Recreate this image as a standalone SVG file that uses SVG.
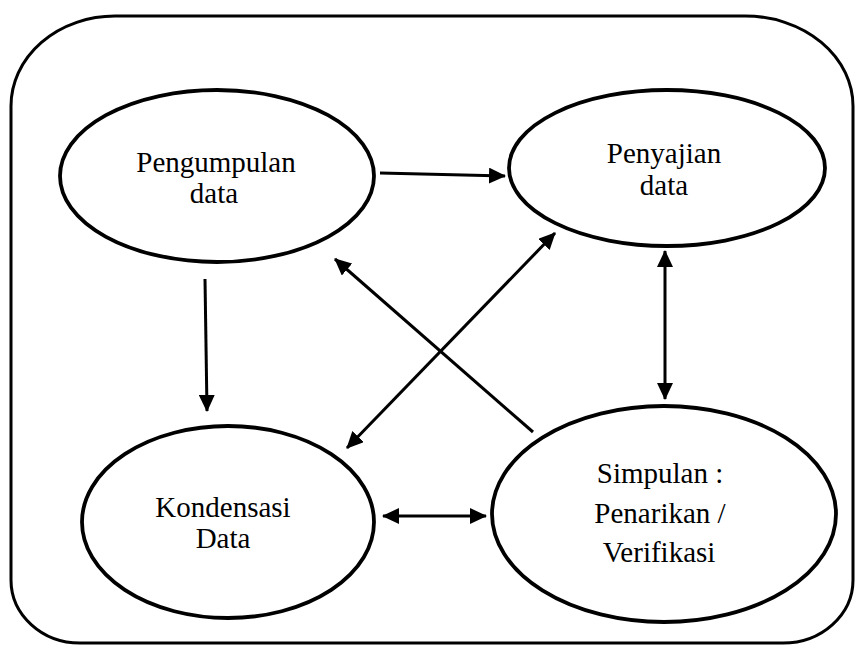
<svg xmlns="http://www.w3.org/2000/svg" width="856" height="648" viewBox="0 0 856 648">
<style>
.frame{fill:none;stroke:#000;stroke-width:3}
.node{fill:#fff;stroke:#000;stroke-width:3.8}
.lbl{font-size:29px;fill:#000;text-anchor:middle}
.edge{stroke:#000;stroke-width:3;fill:none}
</style>
<defs>
<marker id="ah" viewBox="0 0 17 16" refX="16" refY="8" markerWidth="17" markerHeight="16" markerUnits="userSpaceOnUse" orient="auto-start-reverse">
<path d="M0,0 L17,8 L0,16 z" fill="#000"/>
</marker>
</defs>
<rect width="856" height="648" fill="#fff"/>
<path class="frame" d="M115,16 H745 A108,90 0 0 1 853,106 V580 A70,63 0 0 1 783,643 H80 A69,63 0 0 1 11,580 V106 A104,90 0 0 1 115,16 Z"/>
<g id="edges">
<line class="edge" x1="380" y1="173" x2="505" y2="176" marker-end="url(#ah)"/>
<line class="edge" x1="205" y1="279" x2="207" y2="411" marker-end="url(#ah)"/>
<line class="edge" x1="533" y1="432" x2="335" y2="259" marker-end="url(#ah)"/>
<line class="edge" x1="347" y1="448" x2="555" y2="233" marker-start="url(#ah)" marker-end="url(#ah)"/>
<line class="edge" x1="665" y1="251" x2="665" y2="399" marker-start="url(#ah)" marker-end="url(#ah)"/>
<line class="edge" x1="383" y1="516" x2="486" y2="516" marker-start="url(#ah)" marker-end="url(#ah)"/>
</g>
<g font-family="'Liberation Serif', 'Times New Roman', 'DejaVu Serif', serif">
<g id="pengumpulan">
<ellipse class="node" cx="217" cy="176" rx="157" ry="86"/>
<text class="lbl" x="216" y="172">Pengumpulan</text>
<text class="lbl" x="214" y="203">data</text>
</g>
<g id="penyajian">
<ellipse class="node" cx="667" cy="168" rx="158" ry="78"/>
<text class="lbl" x="664" y="163">Penyajian</text>
<text class="lbl" x="664" y="195">data</text>
</g>
<g id="kondensasi">
<ellipse class="node" cx="228" cy="522" rx="146" ry="96"/>
<text class="lbl" x="223" y="517">Kondensasi</text>
<text class="lbl" x="223" y="548">Data</text>
</g>
<g id="simpulan">
<ellipse class="node" cx="664" cy="514" rx="172" ry="108"/>
<text class="lbl" x="660" y="483">Simpulan :</text>
<text class="lbl" x="660" y="523">Penarikan /</text>
<text class="lbl" x="659" y="562">Verifikasi</text>
</g>
</g>
</svg>
